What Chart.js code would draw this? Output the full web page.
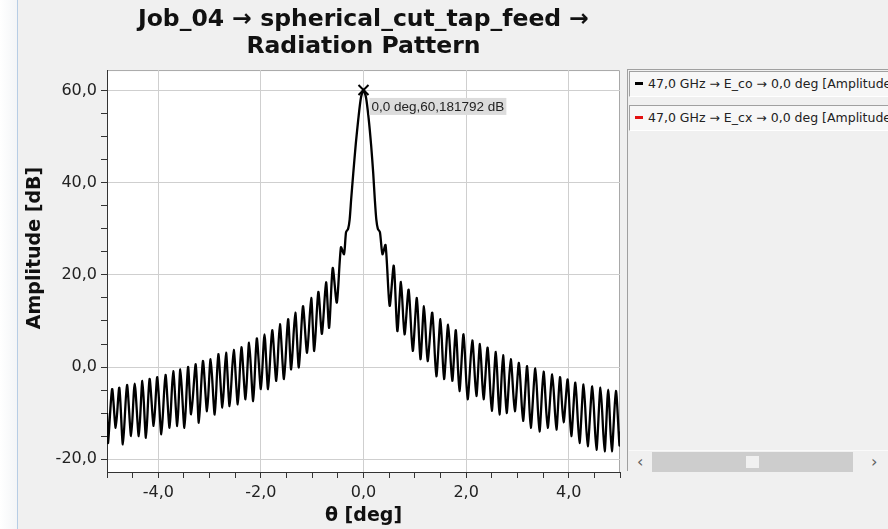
<!DOCTYPE html>
<html>
<head>
<meta charset="utf-8">
<script src="https://cdn.jsdelivr.net/npm/chart.js@4.4.1/dist/chart.umd.min.js"></script>
<style>
  html, body { margin: 0; padding: 0; }
  body { width: 888px; height: 529px; background: #f0f0f0; position: relative; overflow: hidden; font-family: "DejaVu Sans", sans-serif; }
  #edge { position: absolute; left: 0; top: 0; width: 17px; height: 529px; background: linear-gradient(to right, #ffffff, #f3f5f7); border-right: 1px solid #b7cde5; }
  #wrap { position: absolute; left: 0; top: 0; width: 625px; height: 529px; }
  #legend { position: absolute; left: 627px; top: 69px; width: 261px; height: 401px; border-left: 1px solid #a0a0a0; border-top: 1px solid #a0a0a0; background: #f0f0f0; }
  .item { position: absolute; left: 1px; width: 290px; height: 24px; background: #f7f7f7; border-top: 1px solid #a0a0a0; border-left: 1px solid #a0a0a0; border-bottom: 1px solid #ffffff; white-space: nowrap; font: 12.5px "DejaVu Sans", sans-serif; line-height: 24px; color: #222; }
  .item .mk { display: inline-block; width: 8px; height: 3px; margin: 0 5px 2px 5px; vertical-align: middle; }
  #scroll { position: absolute; left: 1px; top: 380px; width: 260px; height: 21px; background: #f0f0f0; border-top: 1px solid #fafafa; }
  #scroll .track { position: absolute; left: 23px; top: 1px; width: 201px; height: 20px; background: #cdcdcd; }
  #scroll .thumb { position: absolute; left: 94px; top: 4px; width: 13px; height: 12px; background: #f0f0f0; }
  #scroll .arr { position: absolute; top: 0; font: 16px "DejaVu Sans", sans-serif; color: #606060; line-height: 21px; }
</style>
</head>
<body>
<div id="edge"></div>
<div id="wrap"><canvas id="chartContainer" width="625" height="529"></canvas></div>
<div id="legend">
  <div id="scroll"><span class="arr" style="left:8px">&lsaquo;</span><div class="track"><div class="thumb"></div></div><span class="arr" style="left:242px">&rsaquo;</span></div>
</div>
<script>
// theta [deg] and E_co amplitude [dB]
var thetaDeg = [
  -5.00, -4.98, -4.90, -4.83, -4.76, -4.69, -4.61, -4.53, -4.46, -4.38,
  -4.31, -4.24, -4.17, -4.09, -4.02, -3.94, -3.86, -3.78, -3.71, -3.63,
  -3.57, -3.49, -3.42, -3.36, -3.27, -3.21, -3.13, -3.05, -2.98, -2.90,
  -2.83, -2.75, -2.68, -2.61, -2.53, -2.45, -2.38, -2.30, -2.23, -2.15,
  -2.08, -2.00, -1.93, -1.86, -1.78, -1.70, -1.63, -1.55, -1.47, -1.41,
  -1.33, -1.26, -1.18, -1.10, -1.02, -0.96, -0.88, -0.81, -0.73, -0.67,
  -0.60, -0.52, -0.44, -0.38, -0.34, -0.30, -0.27, -0.24, -0.20, -0.15,
  -0.10, -0.05, 0.00, 0.05, 0.10, 0.15, 0.19, 0.22, 0.25, 0.28,
  0.32, 0.37, 0.43, 0.51, 0.59, 0.66, 0.73, 0.80, 0.88, 0.96,
  1.04, 1.11, 1.18, 1.25, 1.34, 1.42, 1.50, 1.57, 1.65, 1.73,
  1.80, 1.87, 1.95, 2.03, 2.12, 2.20, 2.27, 2.34, 2.42, 2.50,
  2.58, 2.65, 2.72, 2.79, 2.87, 2.95, 3.03, 3.11, 3.19, 3.26,
  3.35, 3.43, 3.51, 3.59, 3.68, 3.76, 3.83, 3.90, 3.98, 4.05,
  4.13, 4.21, 4.29, 4.37, 4.46, 4.54, 4.62, 4.70, 4.77, 4.84,
  4.92, 4.99, 5.00
];
var ampCo = [
  -10.0, -16.5, -4.8, -13.2, -4.5, -16.8, -3.9, -15.0, -3.6, -15.0,
  -3.0, -15.4, -2.6, -12.8, -2.2, -14.6, -1.7, -13.2, -0.9, -12.8,
  -0.5, -13.2, 0.0, -10.3, 0.6, -12.1, 1.3, -9.6, 1.7, -10.3,
  2.8, -8.8, 3.1, -8.5, 3.7, -8.1, 4.3, -7.0, 5.3, -7.4,
  6.2, -4.8, 7.1, -4.8, 8.0, -3.0, 9.3, -2.6, 10.4, -0.5,
  11.8, -0.1, 13.2, 3.1, 15.0, 3.5, 16.3, 7.2, 18.4, 8.5,
  21.5, 14.0, 26.0, 24.5, 29.3, 30.0, 32.0, 36.5, 42.0, 48.5,
  54.0, 58.5, 60.18, 58.5, 54.0, 48.0, 42.0, 36.5, 32.0, 30.0,
  29.3, 24.5, 26.5, 13.3, 22.0, 7.8, 18.5, 7.1, 16.8, 3.5,
  15.0, 1.7, 13.2, 1.3, 11.8, -2.0, 10.4, -2.6, 9.2, -3.0,
  8.0, -5.2, 7.1, -7.0, 5.8, -6.3, 5.0, -7.0, 4.2, -9.5,
  3.3, -10.3, 2.6, -10.0, 1.7, -9.6, 0.9, -11.7, 0.2, -13.2,
  -0.3, -14.0, -1.0, -13.2, -1.6, -13.6, -2.2, -12.0, -2.7, -15.0,
  -3.4, -16.5, -3.8, -17.2, -4.2, -18.0, -4.5, -18.3, -4.9, -18.3,
  -5.2, -17.0, -14.0
];
var ampCx = [];  // cross-pol stays below the visible range

var seriesNames = ['47,0 GHz \u2192 E_co \u2192 0,0 deg [Amplitude]', '47,0 GHz \u2192 E_cx \u2192 0,0 deg [Amplitude]'];
var seriesColors = ['#000000', '#e31010'];
var xLabelTicks = [-4, -2, 0, 2, 4];
var yTicks = [-20, -15, -10, -5, 0, 5, 10, 15, 20, 25, 30, 35, 40, 45, 50, 55, 60];
var yLabelTicks = [-20, 0, 20, 40, 60];
var peakTheta = 0.0;
var peakAmp = 60.181792;

function fmt(v) {
    return v.toFixed(1).replace('.', ',');
}

// legend panel
var legend = document.getElementById('legend');
seriesNames.forEach(function (name, i) {
    var d = document.createElement('div');
    d.className = 'item';
    d.style.top = (1 + i * 34) + 'px';
    d.innerHTML = '<span class="mk" style="background:' + seriesColors[i] + '"></span>' + name;
    legend.appendChild(d);
});

var plotBg = {
    id: 'plotBg',
    beforeDraw: function (chart) {
        var a = chart.chartArea, c = chart.ctx;
        c.save();
        c.fillStyle = '#ffffff';
        c.fillRect(a.left, a.top, a.right - a.left, a.bottom - a.top);
        c.strokeStyle = '#a8a8a8';
        c.lineWidth = 1;
        c.beginPath();
        c.moveTo(a.left, a.top + 0.5);
        c.lineTo(a.right - 0.5, a.top + 0.5);
        c.lineTo(a.right - 0.5, a.bottom);
        c.stroke();
        c.restore();
    }
};

// y axis title sits a bit above the middle of the axis in the original
var yTitle = {
    id: 'yTitle',
    afterDraw: function (chart) {
        var c = chart.ctx;
        c.save();
        c.translate(35, 248);
        c.rotate(-Math.PI / 2);
        c.font = 'bold 19px "DejaVu Sans", sans-serif';
        c.fillStyle = '#111';
        c.textAlign = 'center';
        c.textBaseline = 'middle';
        c.fillText('Amplitude [dB]', 0, 0);
        c.restore();
    }
};

var peakLabel = {
    id: 'peakLabel',
    afterDatasetsDraw: function (chart) {
        var c = chart.ctx;
        var px = chart.scales.x.getPixelForValue(peakTheta);
        var py = chart.scales.y.getPixelForValue(peakAmp);
        c.save();
        c.strokeStyle = '#000';
        c.lineWidth = 2;
        c.beginPath();
        c.moveTo(px - 5, py - 5); c.lineTo(px + 5, py + 5);
        c.moveTo(px + 5, py - 5); c.lineTo(px - 5, py + 5);
        c.stroke();
        var txt = fmt(peakTheta) + ' deg,' + peakAmp.toFixed(6).replace('.', ',') + ' dB';
        c.font = '13.5px "Liberation Sans", sans-serif';
        var w = c.measureText(txt).width;
        c.fillStyle = '#dcdcdc';
        c.fillRect(px + 6, py + 8, w + 4, 17);
        c.fillStyle = '#222';
        c.textBaseline = 'middle';
        c.fillText(txt, px + 8, py + 17);
        c.restore();
    }
};

var ctx = document.getElementById('chartContainer').getContext('2d');
window.myChart = new Chart(ctx, {
    type: 'line',
    data: {
        datasets: [{
            label: seriesNames[0],
            data: thetaDeg.map(function (t, i) { return { x: t, y: ampCo[i] }; }),
            borderColor: seriesColors[0],
            borderWidth: 2.3,
            pointRadius: 0,
            tension: 0.25,
            fill: false
        }, {
            label: seriesNames[1],
            data: ampCx,
            borderColor: seriesColors[1],
            borderWidth: 2,
            pointRadius: 0
        }]
    },
    options: {
        responsive: false,
        animation: false,
        layout: { padding: { left: 18, right: 5, top: 2, bottom: 2 } },
        plugins: {
            legend: { display: false },
            tooltip: { enabled: false },
            title: {
                display: true,
                fullSize: false,
                text: ['Job_04 \u2192 spherical_cut_tap_feed \u2192', 'Radiation Pattern'],
                color: '#111',
                font: { family: '"DejaVu Sans"', size: 23.5, weight: 'bold', lineHeight: 1.15 },
                padding: { top: 4.5, bottom: 9.5 }
            }
        },
        scales: {
            x: {
                type: 'linear',
                min: -5,
                max: 5,
                afterFit: function (s) { s.height = 55; },
                ticks: {
                    stepSize: 0.5,
                    autoSkip: false,
                    maxRotation: 0,
                    padding: 5,
                    color: '#222',
                    font: { family: '"DejaVu Sans"', size: 16 },
                    callback: function (v) { return xLabelTicks.indexOf(v) >= 0 ? fmt(v) : ''; }
                },
                grid: {
                    color: function (c) { return c.tick && xLabelTicks.indexOf(c.tick.value) >= 0 ? '#cfcfcf' : 'rgba(0,0,0,0)'; },
                    tickColor: '#333',
                    tickLength: 6
                },
                border: { color: '#333', width: 1 },
                title: {
                    display: true,
                    text: '\u03b8 [deg]',
                    color: '#111',
                    font: { family: '"DejaVu Sans"', size: 19, weight: 'bold' },
                    padding: { top: 0, bottom: 0 }
                }
            },
            y: {
                type: 'linear',
                min: -22.8,
                max: 64.5,
                afterFit: function (s) { s.width = 89; },
                afterBuildTicks: function (s) { s.ticks = yTicks.map(function (v) { return { value: v }; }); },
                ticks: {
                    padding: 4,
                    color: '#222',
                    font: { family: '"DejaVu Sans"', size: 16 },
                    callback: function (v) { return yLabelTicks.indexOf(v) >= 0 ? fmt(v) : ''; }
                },
                grid: {
                    color: function (c) { return c.tick && yLabelTicks.indexOf(c.tick.value) >= 0 ? '#cfcfcf' : 'rgba(0,0,0,0)'; },
                    tickColor: '#333',
                    tickLength: 6
                },
                border: { color: '#333', width: 1 }
            }
        }
    },
    plugins: [plotBg, yTitle, peakLabel]
});
</script>
</body>
</html>
